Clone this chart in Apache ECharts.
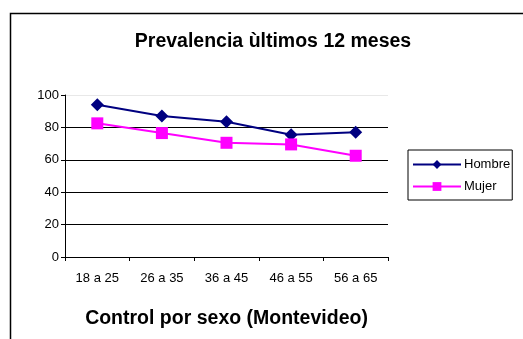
<!DOCTYPE html>
<html><head><meta charset="utf-8">
<script src="https://cdn.jsdelivr.net/npm/echarts@6/dist/echarts.min.js"></script>
<style>html,body{margin:0;padding:0;background:#fff}#c{width:523px;height:339px}</style>
</head><body><div id="c"></div>
<script>
const categories = ['18 a 25','26 a 35','36 a 45','46 a 55','56 a 65'];
const hombre = [94, 87, 83.5, 75.5, 77];
const mujer = [82.5, 76.5, 70.5, 69.5, 62.5];
const chartTitle = 'Prevalencia ùltimos 12 meses';
const xTitle = 'Control por sexo (Montevideo)';

const chart = echarts.init(document.getElementById('c'), null, {renderer:'canvas'});
chart.setOption({
  animation: false,
  textStyle: {fontFamily: 'Liberation Sans, Arial, sans-serif'},
  graphic: [{type:'rect', left:8, top:11, shape:{width:530, height:340}, style:{fill:'none', stroke:'#000', lineWidth:1.5}, z:-1}],
  title: {text: chartTitle, left: 268, textAlign:'center', top: 27, textStyle:{fontSize:19.5, fontWeight:'bold', color:'#000'}},
  grid: {left: 65, top: 95, width: 323, height: 162},
  legend: {
    orient:'vertical', left: 408, top: 150,
    borderColor:'#000', borderWidth:1, padding:[8,2,7,4], itemGap: 9,
    itemWidth: 48, itemHeight: 11,
    textStyle:{fontSize:13, color:'#000', padding:[0,0,0,-2]},
    data:['Hombre','Mujer']
  },
  xAxis: {
    type:'category', data: categories, boundaryGap:true,
    axisLine:{lineStyle:{color:'#000', width:1}},
    axisTick:{show:true, length:4, lineStyle:{color:'#000'}},
    axisLabel:{fontSize:13, color:'#000', margin:15},
    name: xTitle, nameLocation:'middle', nameGap: 52,
    nameTextStyle:{fontSize:19.5, fontWeight:'bold', color:'#000'}
  },
  yAxis: {
    type:'value', min:0, max:100, interval:20,
    axisLine:{show:true, lineStyle:{color:'#000'}},
    axisTick:{show:true, length:4, lineStyle:{color:'#000'}},
    axisLabel:{fontSize:13, color:'#000', margin:6},
    splitLine:{show:true, lineStyle:{color:['#000','#000','#000','#000','#000','#e8e8e8'], width:1}}
  },
  series: [
    {name:'Hombre', type:'line', data:hombre, symbol:'diamond', symbolSize:13,
     lineStyle:{color:'#000080', width:2}, itemStyle:{color:'#000080'}},
    {name:'Mujer', type:'line', data:mujer, symbol:'rect', symbolSize:12,
     lineStyle:{color:'#ff00ff', width:2}, itemStyle:{color:'#ff00ff'}}
  ]
});
</script></body></html>
